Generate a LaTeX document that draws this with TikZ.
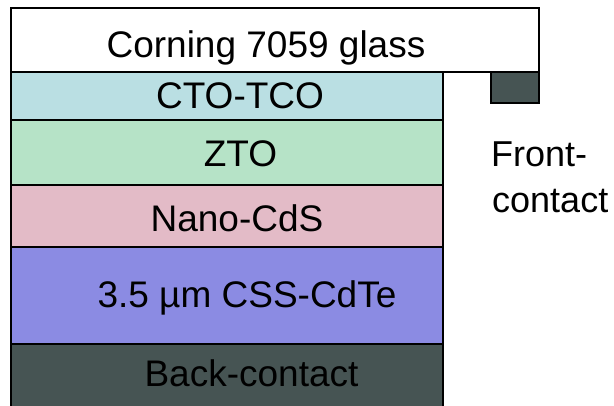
\documentclass[tikz,border=0pt]{standalone}
\usepackage{fontspec}
\setmainfont{Liberation Sans}
\definecolor{ctoc}{HTML}{BADFE3}
\definecolor{ztoc}{HTML}{B6E3C7}
\definecolor{cdsc}{HTML}{E3BBC7}
\definecolor{cdtec}{HTML}{8B8BE3}
\definecolor{backc}{HTML}{465453}
\begin{document}
\begin{tikzpicture}[x=1pt,y=-1pt,
  layerbox/.style={draw=black,line width=1.6pt},
  lbl/.style={anchor=base,inner sep=0pt,font=\fontsize{37}{40}\selectfont},
  lblw/.style={anchor=base west,inner sep=0pt,font=\fontsize{36}{40}\selectfont}]
\useasboundingbox (0,0) rectangle (614,406);
\clip (0,0) rectangle (614,406);
% layers
\draw[layerbox,fill=backc] (11,344) rectangle (443,420);
\draw[layerbox,fill=cdtec] (11,247) rectangle (443,344);
\draw[layerbox,fill=cdsc] (11,185) rectangle (443,247);
\draw[layerbox,fill=ztoc] (11,120) rectangle (443,185);
\draw[layerbox,fill=ctoc] (11,72) rectangle (443,120);
\draw[layerbox,fill=white] (11,8) rectangle (539,72);
\draw[layerbox,fill=backc] (491,72) rectangle (539,103);
% labels
\node[lbl] (glass) at (266,58) {Corning 7059 glass};
\node[lbl] (cto) at (240,109) {CTO-TCO};
\node[lbl] (zto) at (240.5,167) {ZTO};
\node[lbl] (cds) at (237,232) {Nano-CdS};
\node[lbl] (cdte) at (247,308) {3.5 µm CSS-CdTe};
\node[lbl] (back) at (251.5,387) {Back-contact};
\node[lblw] (front1) at (491,167) {Front-};
\node[lblw] (front2) at (492,213) {contact};
\end{tikzpicture}
\end{document}
